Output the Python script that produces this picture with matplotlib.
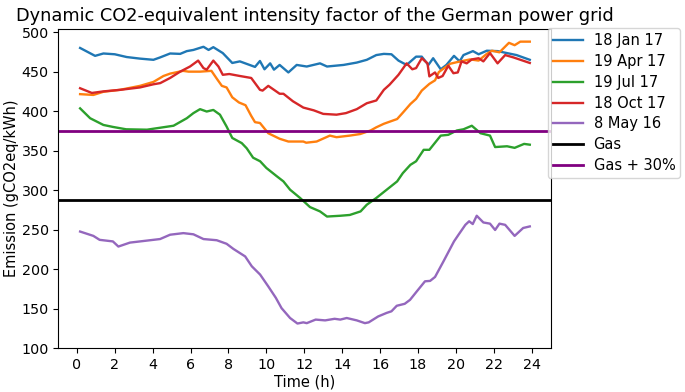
import matplotlib
matplotlib.use("Agg")
import matplotlib.pyplot as plt

# ---- data ----
jan_t = [0.17, 0.96, 1.4, 2.0, 2.63, 3.33, 4.04, 4.39, 4.92, 5.45, 5.8, 6.15, 6.68, 6.95, 7.2, 7.7, 8.2, 8.6, 9.4, 9.66, 9.9, 10.2, 10.4, 10.7, 11.16, 11.6, 12.13, 12.83, 13.2, 14.07, 14.77, 15.3, 15.8, 16.2, 16.6, 16.97, 17.4, 17.9, 18.2, 18.55, 18.8, 19.2, 19.5, 19.9, 20.2, 20.4, 20.9, 21.2, 21.63, 22.2, 22.7, 23.2, 23.9]
jan_v = [480, 470, 473, 472, 468.5, 466.5, 465, 468, 473, 472.5, 476, 477.5, 481.5, 477.5, 481, 473.5, 461, 463, 456, 463.5, 453, 460.5, 452.5, 458.5, 449, 458.5, 456.5, 460.5, 456.5, 458.5, 461.5, 465, 471, 472.5, 472, 464, 458.5, 469, 469, 458.5, 467, 453, 458.5, 470, 463, 471, 476, 472, 476.5, 476, 473.5, 471, 465]

apr_t = [0.17, 0.87, 1.4, 2.28, 3.33, 4.04, 4.57, 4.92, 5.6, 5.9, 6.5, 7.1, 7.4, 7.65, 7.9, 8.2, 8.55, 8.9, 9.2, 9.4, 9.66, 10.1, 10.7, 11.16, 11.95, 12.1, 12.65, 13.35, 13.7, 14.4, 14.95, 15.5, 15.8, 16.2, 16.9, 17.2, 17.6, 17.9, 18.2, 18.6, 18.9, 19.1, 19.7, 20.05, 20.75, 21.2, 21.63, 21.9, 22.3, 22.8, 23.1, 23.4, 23.9]
apr_v = [421.5, 420.5, 424.5, 427, 432, 437, 444.5, 447.5, 451, 450, 450, 451, 440.5, 432, 430, 417.5, 411, 407.5, 394, 386, 385, 372, 365, 361.5, 361.5, 360, 361.5, 369, 367, 369, 371, 375.5, 379.5, 384, 390, 398, 409, 415.5, 426, 434.5, 439, 449.5, 460, 462, 465.5, 464, 472.5, 476.5, 474.5, 486.5, 483.5, 488, 488]

jul_t = [0.17, 0.7, 1.4, 1.9, 2.6, 3.7, 4.4, 5.1, 5.8, 6.15, 6.5, 6.85, 7.2, 7.55, 7.9, 8.2, 8.7, 8.96, 9.3, 9.67, 10.0, 10.55, 10.9, 11.25, 11.78, 12.3, 12.83, 13.2, 13.9, 14.4, 14.97, 15.3, 15.8, 16.35, 16.9, 17.2, 17.6, 17.9, 18.3, 18.6, 19.2, 19.6, 20.05, 20.4, 20.84, 21.3, 21.8, 22.07, 22.7, 23.1, 23.6, 23.9]
jul_v = [403.5, 391, 382.5, 380, 377, 376.5, 379, 381.5, 391, 397.5, 402.5, 399.5, 401.5, 395.5, 380.5, 366, 359.5, 353, 341, 336.5, 328, 317.5, 311, 300.5, 290, 278.5, 273, 266.5, 267.5, 268.5, 273, 281.5, 290, 300.5, 311, 321.5, 332, 336.5, 351, 351, 369, 370, 375.5, 377, 381.5, 372, 369, 354.5, 355.5, 353.5, 358.5, 357.5]

oct_t = [0.17, 0.79, 1.4, 2.3, 3.33, 4.04, 4.4, 4.92, 5.45, 5.97, 6.4, 6.68, 6.85, 7.2, 7.47, 7.7, 8.04, 8.6, 9.2, 9.66, 9.8, 10.1, 10.4, 10.7, 10.9, 11.4, 11.95, 12.5, 13.0, 13.7, 14.2, 14.77, 15.3, 15.8, 16.2, 16.5, 16.97, 17.4, 17.7, 17.9, 18.2, 18.5, 18.6, 18.9, 19.07, 19.3, 19.6, 19.87, 20.1, 20.3, 20.57, 20.84, 21.2, 21.45, 21.8, 22.2, 22.6, 23.04, 23.9]
oct_v = [429, 423, 425, 427, 430, 434, 435.5, 442, 450, 456.5, 464, 454.5, 452.5, 464, 456.5, 446, 447, 444.5, 442, 427, 426, 432, 427, 422, 422, 412.5, 404.5, 401, 396.5, 395.5, 397.5, 402.5, 410, 413.5, 427, 433.5, 446, 460.5, 453, 454.5, 467, 460.5, 444, 449, 442, 444.5, 457.5, 448, 449, 463, 460.5, 465.5, 467, 463, 473.5, 460.5, 471, 468, 461]

may_t = [0.17, 0.87, 1.2, 1.9, 2.19, 2.8, 3.33, 3.86, 4.39, 4.92, 5.62, 6.15, 6.68, 7.38, 7.9, 8.26, 8.88, 9.23, 9.67, 10.1, 10.5, 10.8, 11.25, 11.64, 11.95, 12.13, 12.6, 13.1, 13.6, 13.9, 14.24, 14.77, 15.2, 15.4, 15.9, 16.35, 16.6, 16.88, 17.3, 17.58, 17.93, 18.37, 18.64, 18.9, 19.34, 19.9, 20.14, 20.5, 20.7, 20.89, 21.1, 21.45, 21.8, 22.07, 22.3, 22.6, 23.1, 23.55, 23.9]
may_v = [247.5, 242, 237, 235, 228.5, 233.5, 235, 236.5, 238, 243.5, 245.5, 244, 238, 236.5, 232, 225.5, 216, 203.5, 193, 178, 163.5, 150.5, 138, 131, 132.5, 131.5, 136, 135, 137, 136, 138, 135, 131.5, 132.5, 140, 144.5, 146.5, 153.5, 156, 161, 171.5, 184.5, 185, 190, 209.5, 235, 243.5, 256, 260.5, 257, 267.5, 259, 257.5, 249.5, 257.5, 256, 242, 252, 254]

series_labels = ["18 Jan 17", "19 Apr 17", "19 Jul 17", "18 Oct 17", "8 May 16"]
gas_value = 288.0
gas_plus_label = "Gas + 30%"
gas_plus_value = gas_value * 1.3

x_ticks = list(range(0, 25, 2))
y_ticks = [100, 150, 200, 250, 300, 350, 400, 450, 500]

# ---- figure ----
fig = plt.figure(figsize=(6.85, 3.92), dpi=100)
ax = fig.add_axes([0.0854, 0.1122, 0.719, 0.8138])

series = [(jan_t, jan_v), (apr_t, apr_v), (jul_t, jul_v), (oct_t, oct_v), (may_t, may_v)]
colors = ["#1f77b4", "#ff7f0e", "#2ca02c", "#d62728", "#9467bd"]
for (t, v), lab, c in zip(series, series_labels, colors):
    ax.plot(t, v, color=c, lw=1.7, label=lab)

ax.axhline(gas_value, color="black", lw=2, label="Gas")
ax.axhline(gas_plus_value, color="purple", lw=2, label=gas_plus_label)

ax.set_xlim(-0.97, 25.02)
ax.set_ylim(100, 504)
ax.set_xticks(x_ticks)
ax.set_yticks(y_ticks)
ax.tick_params(labelsize=10.3)
ax.set_xlabel("Time (h)", fontsize=10.5, labelpad=2)
ax.set_ylabel("Emission (gCO2eq/kWh)", fontsize=10.5, labelpad=2)
ax.set_title("Dynamic CO2-equivalent intensity factor of the German power grid",
             fontsize=12.8, pad=6, x=0.521)

ax.legend(loc="upper left", bbox_to_anchor=(0.993, 1.003), borderaxespad=0,
          fontsize=10.5, labelspacing=0.4, framealpha=0.8, handlelength=2.1,
          borderpad=0.35, handletextpad=0.7)

fig.savefig("out.png", dpi=100)
